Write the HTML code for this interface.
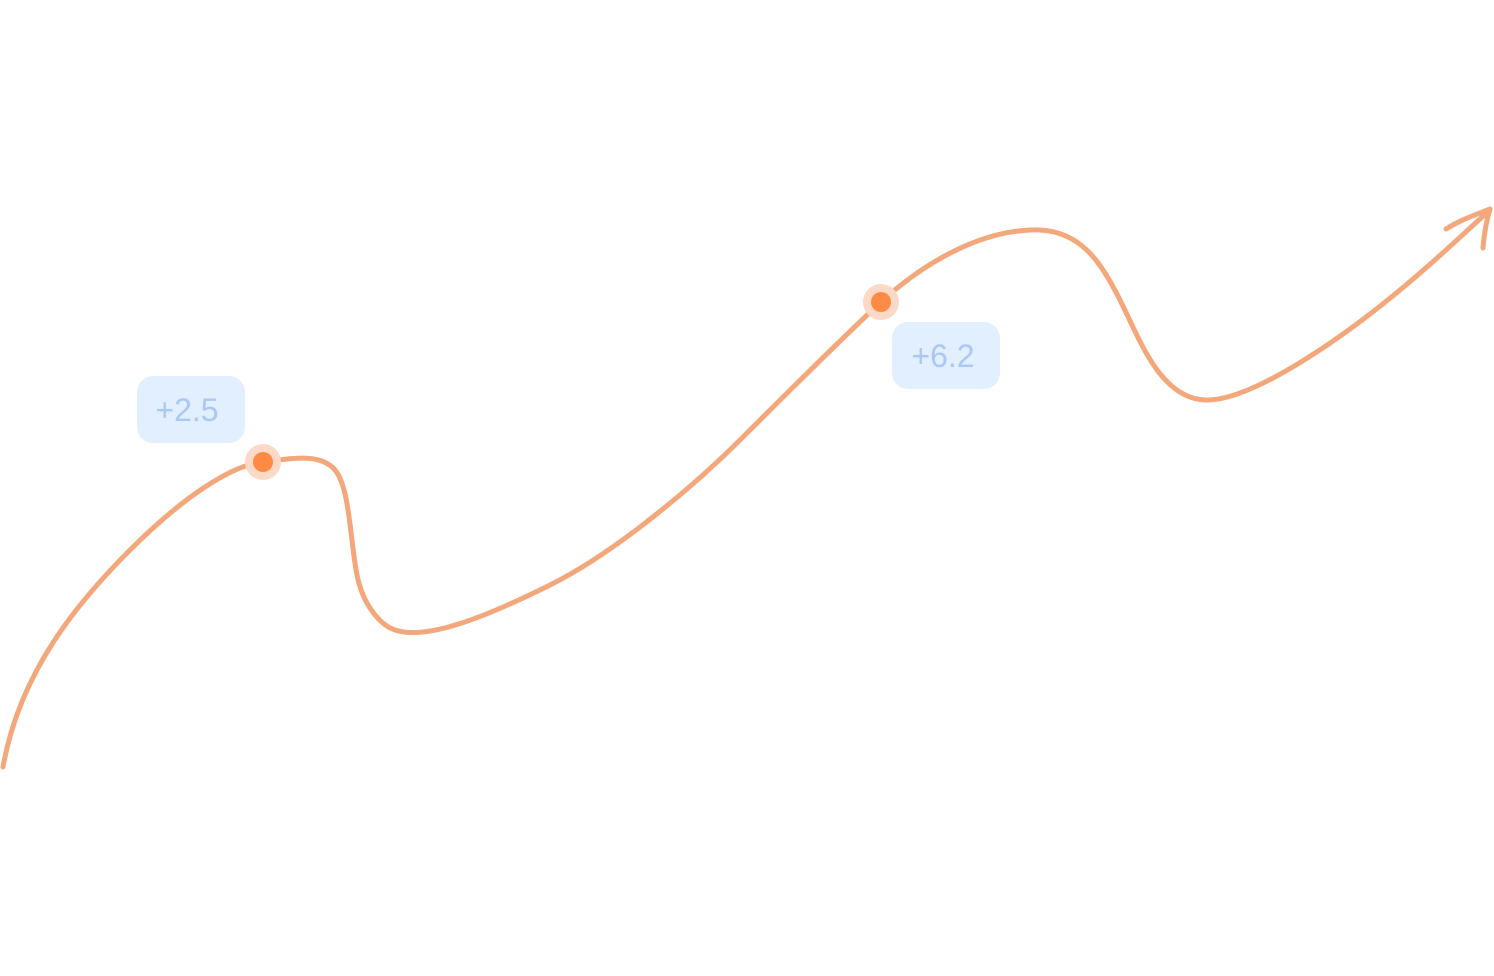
<!DOCTYPE html>
<html><head><meta charset="utf-8"><style>
html,body{margin:0;padding:0;background:#fff;width:1494px;height:976px;overflow:hidden}
</style></head><body>
<svg width="1494" height="976" viewBox="0 0 1494 976" xmlns="http://www.w3.org/2000/svg">
<path d="M3,767 C20,670 80,600 130,550 C180,500 230,465 263,462 C290,459 320,452 335,470 C350,488 350,540 357,575 C363,605 380,625 395,630 C425,640 480,620 550,585 C620,550 700,480 740,440 C780,400 840,340 880,303 C920,266 980,228 1040,230 C1080,232 1100,260 1120,300 C1140,340 1160,398 1205,400 C1250,402 1340,340 1400,290 C1440,257 1465,232 1490,210" fill="none" stroke="#f3a77a" stroke-width="5" stroke-linecap="round"/>
<path d="M1446,229 C1460,220 1475,215 1490,209 C1486,222 1484,235 1483,248" fill="none" stroke="#f3a77a" stroke-width="5" stroke-linecap="round" stroke-linejoin="round"/>
<circle cx="263" cy="462" r="18" fill="#fbd9c6"/>
<circle cx="263" cy="462" r="10" fill="#ff8a45"/>
<circle cx="881" cy="302" r="18" fill="#fbd9c6"/>
<circle cx="881" cy="302" r="10" fill="#ff8a45"/>
<rect x="137" y="376" width="108" height="67" rx="16" fill="#e1efff"/>
<text x="187" y="421" font-family="Liberation Sans, sans-serif" font-size="32" fill="#a9c8f5" text-anchor="middle">+2.5</text>
<rect x="892" y="322" width="108" height="67" rx="16" fill="#e1efff"/>
<text x="943" y="367" font-family="Liberation Sans, sans-serif" font-size="32" fill="#a9c8f5" text-anchor="middle">+6.2</text>
</svg>
</body></html>
